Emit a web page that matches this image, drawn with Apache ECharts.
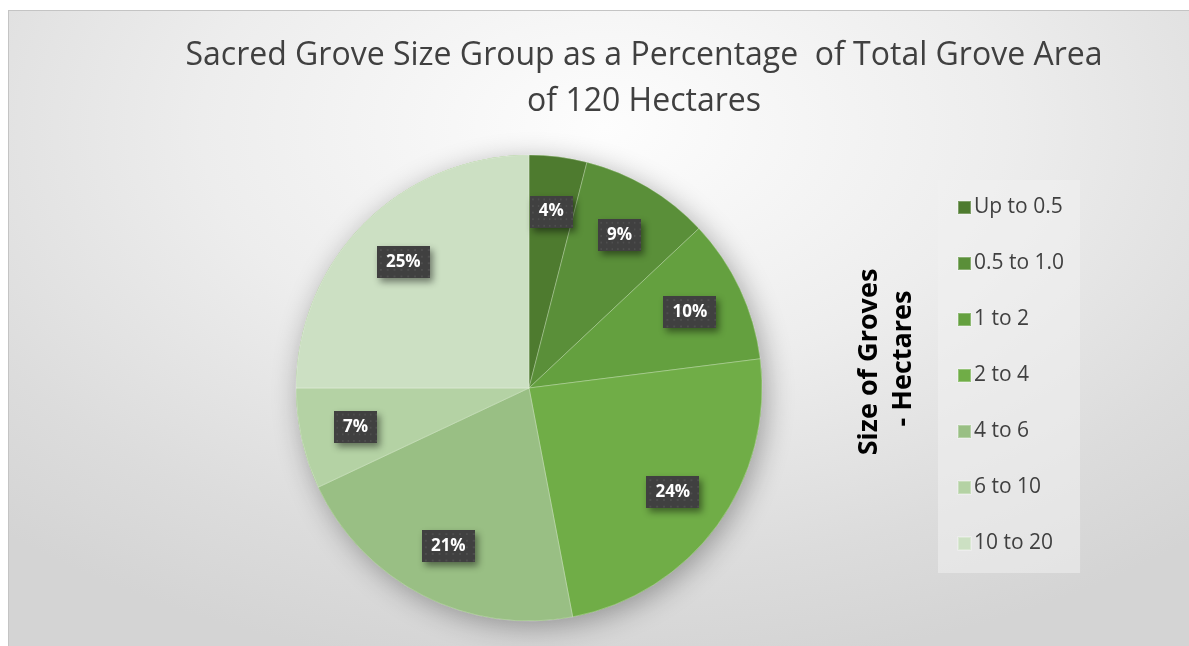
<!DOCTYPE html>
<html>
<head>
<meta charset="utf-8">
<script src="https://cdn.jsdelivr.net/npm/echarts@6/dist/echarts.min.js"></script>
<style>
  html, body { margin: 0; padding: 0; width: 1189px; height: 646px; background: #ffffff; overflow: hidden; }
  #frame {
    position: absolute; left: 8px; top: 10px; width: 1190px; height: 646px;
    border-left: 1px solid #c4c4c4; border-top: 1px solid #c4c4c4;
    background: radial-gradient(ellipse 75% 85% at 50% 18%, #fdfdfd 0%, #ededed 45%, #dcdcdc 80%, #d4d4d4 100%);
  }
  #chart { position: absolute; left: 0; top: 0; width: 1190px; height: 646px; }
</style>
</head>
<body>
<div id="frame"><div id="chart"></div></div>
<script>
// Grove size classes (hectares) and their share of the 120 ha total grove area (%)
const sizeGroups = ['Up to 0.5', '0.5 to 1.0', '1 to 2', '2 to 4', '4 to 6', '6 to 10', '10 to 20'];
const areaShare = [4, 9, 10, 24, 21, 7, 25];
const sliceColors = ['#4E7B2F', '#5A8F39', '#64A03F', '#70AD47', '#99BF84', '#B4D2A4', '#CCE0C3'];

const titleLines = ['Sacred Grove Size Group as a Percentage  of Total Grove Area', 'of 120 Hectares'];
const legendTitle = 'Size of Groves\n - Hectares';

// Dark dotted tile used behind the percentage labels
function dottedTile(w, h) {
  const c = document.createElement('canvas');
  c.width = w; c.height = h;
  const g = c.getContext('2d');
  g.fillStyle = '#404040';
  g.fillRect(0, 0, w, h);
  g.fillStyle = '#4e4e4e';
  for (let y = 3; y < h; y += 7) {
    for (let x = 3; x < w; x += 7) g.fillRect(x, y, 2, 2);
  }
  return c;
}
const tile = dottedTile(54, 34);

const chart = echarts.init(document.getElementById('chart'), null, { renderer: 'canvas' });

const center = [520, 377];
const R = 233;
const total = areaShare.reduce((a, b) => a + b, 0);
const pieData = sizeGroups.map((name, i) => ({ name, value: areaShare[i], itemStyle: { color: sliceColors[i] } }));

chart.setOption({
  animation: false,
  color: sliceColors,
  graphic: [
    {
      type: 'text', x: 635, y: 45,
      style: { text: titleLines[0], font: '32px "Open Sans"', fill: '#404040', textAlign: 'center', textVerticalAlign: 'middle' }
    },
    {
      type: 'text', x: 635, y: 91,
      style: { text: titleLines[1], font: '32px "Open Sans"', fill: '#404040', textAlign: 'center', textVerticalAlign: 'middle' }
    },
    {
      type: 'text', x: 877, y: 351, rotation: Math.PI / 2,
      style: { text: legendTitle, font: 'bold 27px "Open Sans"', fill: '#000000', textAlign: 'center', textVerticalAlign: 'middle', lineHeight: 34 }
    }
  ],
  legend: {
    orient: 'vertical',
    left: 929, top: 169,
    data: sizeGroups,
    icon: 'rect',
    itemWidth: 13, itemHeight: 13,
    itemGap: 35,
    padding: [17, 16, 19, 19],
    backgroundColor: 'rgba(240,240,240,0.55)',
    selectedMode: false,
    textStyle: { fontFamily: 'Open Sans', fontSize: 21, color: '#404040', lineHeight: 21, padding: [0, 0, 0, -2] }
  },
  series: [
    {
      // soft drop shadow under the whole pie
      type: 'pie', silent: true, center, radius: R, startAngle: 90,
      data: [{ name: '', value: total }],
      label: { show: false }, labelLine: { show: false },
      itemStyle: { color: '#70AD47', shadowBlur: 28, shadowColor: 'rgba(0,0,0,0.32)', shadowOffsetX: 4, shadowOffsetY: 6 }
    },
    {
      type: 'pie', name: 'Grove area', center, radius: R, startAngle: 90, clockwise: true,
      data: pieData,
      label: { show: false }, labelLine: { show: false },
      itemStyle: { borderColor: 'rgba(255,255,255,0.28)', borderWidth: 1 },
      emphasis: { disabled: true }
    },
    {
      // percentage labels, placed on a ring inside the pie
      type: 'pie', silent: true, center, radius: [R * 0.5, R * 1.0], startAngle: 90, clockwise: true,
      data: pieData.map(d => ({ name: d.name, value: d.value })),
      itemStyle: { color: 'rgba(0,0,0,0)' },
      labelLine: { show: false },
      label: {
        show: true, position: 'inside',
        formatter: p => Math.round(p.percent) + '%',
        fontFamily: 'Open Sans', fontWeight: 'bold', fontSize: 17, color: '#ffffff',
        backgroundColor: { image: tile },
        padding: [8, 9, 7, 9],
        shadowColor: 'rgba(0,0,0,0.45)', shadowBlur: 7, shadowOffsetX: 3, shadowOffsetY: 4
      }
    }
  ]
});
</script>
</body>
</html>
